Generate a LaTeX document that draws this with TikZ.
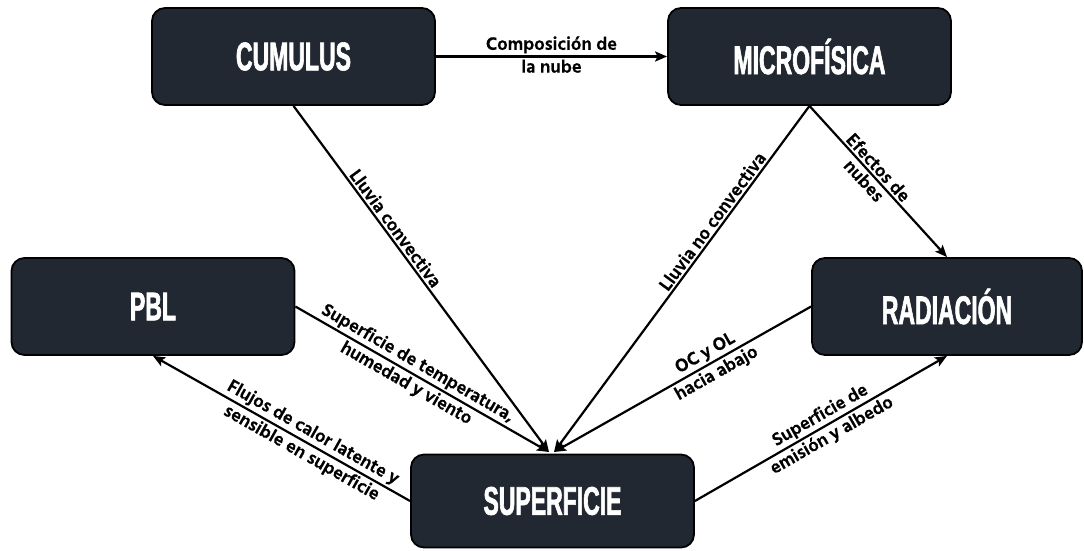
\documentclass[tikz,border=0pt]{standalone}
\usepackage{fontspec}
\newfontfamily\boxfont{Liberation Sans}[FakeStretch=0.575, BoldFeatures={FakeBold=1.5}]
\newfontfamily\lblfont{Hind Siliguri}[BoldFeatures={FakeBold=0.6}]
\usetikzlibrary{arrows.meta}
\definecolor{boxfill}{HTML}{222831}
\begin{document}
\begin{tikzpicture}[x=1pt,y=-1pt,
  box/.style={draw=black, line width=1.8pt, fill=boxfill, rounded corners=13pt,
    minimum width=283pt, minimum height=97pt, text=white, inner sep=0pt,
    font=\boxfont\bfseries\fontsize{40}{44}\selectfont},
  conn/.style={line width=2.2pt, -{Stealth[length=12pt,width=10pt,inset=2.5pt]}},
  lbl/.style={font=\lblfont\bfseries\fontsize{18.5}{20}\selectfont, text=black, sloped, inner sep=2pt}]
\useasboundingbox (0,0) rectangle (1084,550);
\node[box] (cu) at (293.5,56.5) {CUMULUS};
\node[box] (mi) at (809.5,56.5) {MICROFÍSICA};
\node[box] (pb) at (153,306.5) {PBL};
\node[box, minimum width=270pt] (ra) at (947,306.5) {RADIACIÓN};
\node[box, minimum height=93pt] (su) at (552.5,501) {SUPERFICIE};
\coordinate (hubL) at (549,452);
\coordinate (hubR) at (554,452);
\draw[conn] (cu.east) -- (mi.west)
  node[lbl,midway,above]{Composición de} node[lbl,midway,below]{la nube};
\draw[conn] (cu.south) -- (hubL) node[lbl,pos=0.37,above]{Lluvia convectiva};
\draw[conn] (mi.south) -- (hubR) node[lbl,pos=0.35,above]{Lluvia no convectiva};
\draw[conn] (mi.south) -- (ra.north)
  node[lbl,pos=0.45,above]{Efectos de} node[lbl,pos=0.45,below]{nubes};
\draw[conn] (pb.east) -- (hubL)
  node[lbl,pos=0.46,above]{Superficie de temperatura,} node[lbl,pos=0.46,below]{humedad y viento};
\draw[conn] (su.west) -- (pb.south)
  node[lbl,pos=0.40,above]{Flujos de calor latente y} node[lbl,pos=0.40,below]{sensible en superficie};
\draw[conn] (ra.west) -- (hubR)
  node[lbl,pos=0.39,above]{OC y OL} node[lbl,pos=0.39,below]{hacia abajo};
\draw[conn] (su.east) -- (ra.south)
  node[lbl,pos=0.52,above]{Superficie de} node[lbl,pos=0.52,below]{emisión y albedo};
\end{tikzpicture}
\end{document}
